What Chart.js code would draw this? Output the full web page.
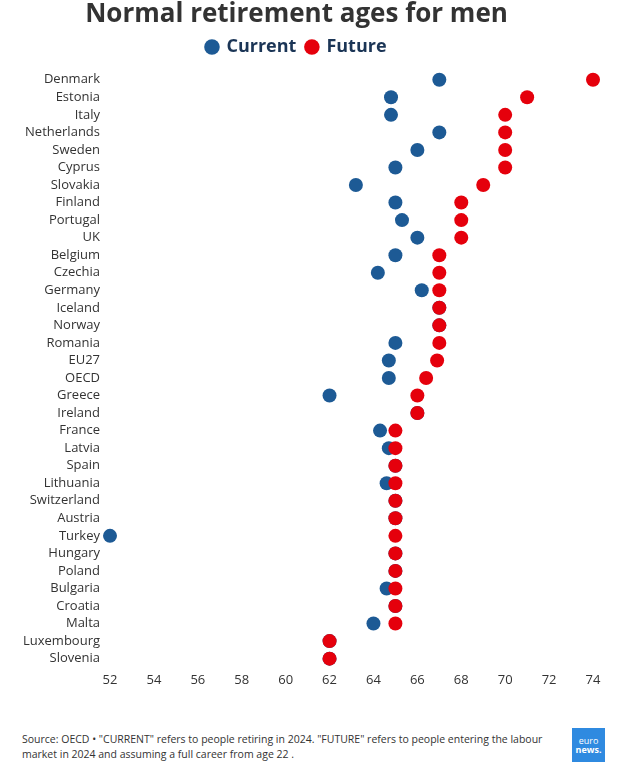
<!DOCTYPE html>
<html>
<head>
<meta charset="utf-8">
<script src="https://cdn.jsdelivr.net/npm/chart.js@4.4.1/dist/chart.umd.min.js"></script>
<style>
  html, body { margin: 0; padding: 0; background: #fff; }
  body { width: 620px; height: 767px; position: relative; font-family: "Open Sans", sans-serif; }
  #wrap { position: absolute; left: 0; top: 0; width: 620px; height: 693px; }
  #note { position: absolute; left: 22px; top: 732px; width: 535px; font-size: 10.5px; line-height: 15px; color: #333; }
  #logo { position: absolute; left: 572px; top: 728px; width: 33px; height: 34px; background: #2f8ae0; color: #fff;
          font-size: 9px; line-height: 9px; text-align: center; padding-top: 8px; box-sizing: border-box; }
  #logo b { font-weight: 700; }
</style>
</head>
<body>
<div id="wrap"><canvas id="chart"></canvas></div>
<div id="note">Source: OECD • "CURRENT" refers to people retiring in 2024. "FUTURE" refers to people entering the labour market in 2024 and assuming a full career from age 22 .</div>
<div id="logo">euro<br><b>news.</b></div>
<script>
const countries = ['Denmark', 'Estonia', 'Italy', 'Netherlands', 'Sweden', 'Cyprus', 'Slovakia', 'Finland',
    'Portugal', 'UK', 'Belgium', 'Czechia', 'Germany', 'Iceland', 'Norway', 'Romania', 'EU27', 'OECD',
    'Greece', 'Ireland', 'France', 'Latvia', 'Spain', 'Lithuania', 'Switzerland', 'Austria', 'Turkey',
    'Hungary', 'Poland', 'Bulgaria', 'Croatia', 'Malta', 'Luxembourg', 'Slovenia'];

const current = [67, 64.8, 64.8, 67, 66, 65, 63.2, 65, 65.3, 66, 65, 64.2, 66.2, 67, 67, 65, 64.7, 64.7,
    62, 66, 64.3, 64.7, 65, 64.6, 65, 65, 52, 65, 65, 64.6, 65, 64, 62, 62];

const future = [74, 71, 70, 70, 70, 70, 69, 68, 68, 68, 67, 67, 67, 67, 67, 67, 66.9, 66.4,
    66, 66, 65, 65, 65, 65, 65, 65, 65, 65, 65, 65, 65, 65, 62, 62];

const xTicks = [52, 54, 56, 58, 60, 62, 64, 66, 68, 70, 72, 74];

const blue = '#1d5a95';
const red = '#e5000c';

const dot = (label, data, color, order) => ({
    label: label,
    data: data,
    order: order,
    showLine: false,
    pointRadius: 7,
    pointHoverRadius: 7,
    pointStyle: 'circle',
    pointBorderWidth: 0,
    backgroundColor: color,
    borderColor: color
});

const chart = new Chart(document.getElementById('chart'), {
    type: 'line',
    data: {
        labels: countries,
        datasets: [
            dot('Current', current, blue, 2),
            dot('Future', future, red, 1)
        ]
    },
    options: {
        responsive: true,
        maintainAspectRatio: false,
        animation: false,
        indexAxis: 'y',
        clip: false,
        layout: { padding: { left: 0, right: 27, top: 0, bottom: 0 } },
        plugins: {
            title: {
                display: true,
                text: 'Normal retirement ages for men',
                color: '#333333',
                font: { family: 'Open Sans', size: 26, weight: 'bold', lineHeight: 1.0 },
                padding: { top: 2, bottom: 0 }
            },
            legend: {
                display: true,
                reverse: true,
                labels: {
                    usePointStyle: true,
                    boxWidth: 11,
                    boxHeight: 11,
                    padding: 10,
                    color: '#1b3556',
                    font: { family: 'Open Sans', size: 18, weight: 'bold' }
                }
            },
            tooltip: { enabled: false }
        },
        scales: {
            x: {
                type: 'linear',
                min: 52,
                max: 74,
                afterBuildTicks: (scale) => { scale.ticks = xTicks.map(v => ({ value: v })); },
                grid: { display: false, drawTicks: false },
                border: { display: false },
                ticks: { color: '#333333', padding: 5, font: { family: 'Open Sans', size: 13 } }
            },
            y: {
                type: 'category',
                offset: true,
                afterFit: (scale) => { scale.width = 110; },
                grid: { display: false, drawTicks: false },
                border: { display: false },
                ticks: { color: '#333333', padding: 10, autoSkip: false, font: { family: 'Open Sans', size: 13 } }
            }
        }
    }
});

// a bit more room under the legend, items stay where they are
const legendFit = chart.legend.fit;
chart.legend.fit = function () {
    legendFit.call(this);
    this.height += 5;
};
chart.update();
</script>
</body>
</html>
